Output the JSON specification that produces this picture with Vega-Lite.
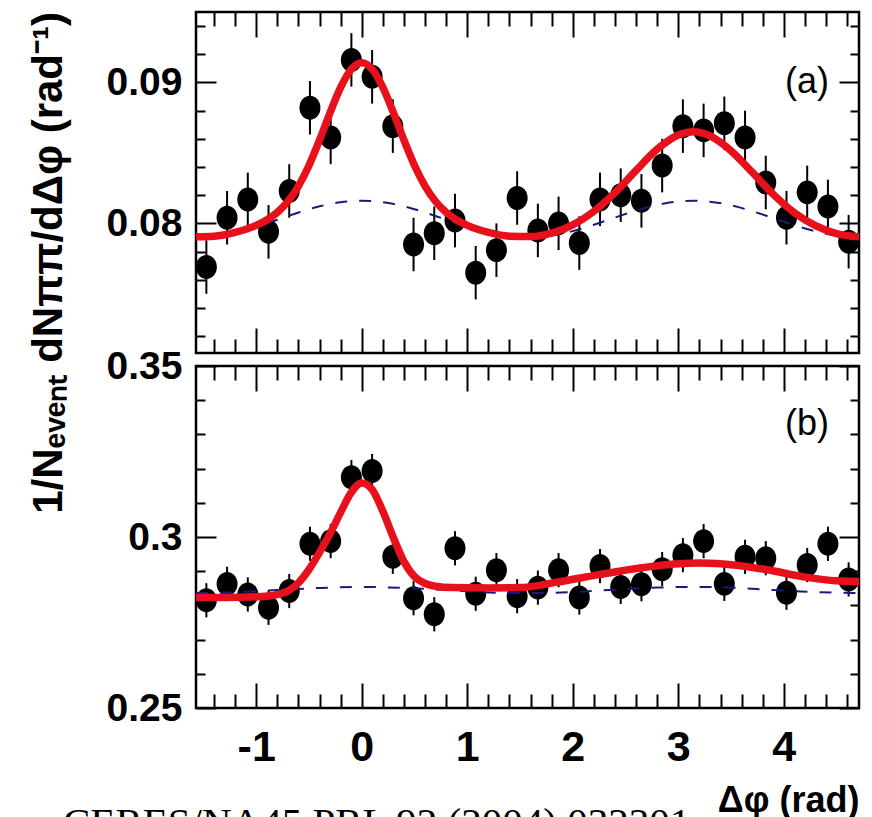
{
  "$schema": "https://vega.github.io/schema/vega-lite/v6.json",
  "background": "white",
  "padding": {"left": 27, "top": 9, "right": 10, "bottom": 5},
  "title": {"text": "1/Nₑᵥₑₙₜ dNππ/dΔφ (rad⁻¹)", "orient": "left", "anchor": "end", "frame": "group", "font": "Liberation Sans", "fontSize": 42, "fontWeight": "bold", "color": "black", "offset": -9},
  "spacing": -11,
  "datasets": {
    "ptsA": [
      {"x": -1.4726, "y": 0.0769, "lo": 0.0750, "hi": 0.0788},
      {"x": -1.2763, "y": 0.0804, "lo": 0.0785, "hi": 0.0823},
      {"x": -1.0799, "y": 0.0817, "lo": 0.0798, "hi": 0.0836},
      {"x": -0.8836, "y": 0.0794, "lo": 0.0775, "hi": 0.0813},
      {"x": -0.6872, "y": 0.0823, "lo": 0.0804, "hi": 0.0842},
      {"x": -0.4909, "y": 0.0882, "lo": 0.0863, "hi": 0.0901},
      {"x": -0.2945, "y": 0.0861, "lo": 0.0842, "hi": 0.0880},
      {"x": -0.0982, "y": 0.0916, "lo": 0.0897, "hi": 0.0935},
      {"x": 0.0982, "y": 0.0904, "lo": 0.0885, "hi": 0.0923},
      {"x": 0.2945, "y": 0.0869, "lo": 0.0850, "hi": 0.0888},
      {"x": 0.4909, "y": 0.0785, "lo": 0.0766, "hi": 0.0804},
      {"x": 0.6872, "y": 0.0793, "lo": 0.0774, "hi": 0.0812},
      {"x": 0.8836, "y": 0.0802, "lo": 0.0783, "hi": 0.0821},
      {"x": 1.0799, "y": 0.0765, "lo": 0.0746, "hi": 0.0784},
      {"x": 1.2763, "y": 0.0781, "lo": 0.0762, "hi": 0.0800},
      {"x": 1.4726, "y": 0.0818, "lo": 0.0799, "hi": 0.0837},
      {"x": 1.6690, "y": 0.0795, "lo": 0.0776, "hi": 0.0814},
      {"x": 1.8653, "y": 0.0800, "lo": 0.0781, "hi": 0.0819},
      {"x": 2.0617, "y": 0.0786, "lo": 0.0767, "hi": 0.0805},
      {"x": 2.2580, "y": 0.0817, "lo": 0.0798, "hi": 0.0836},
      {"x": 2.4544, "y": 0.0820, "lo": 0.0801, "hi": 0.0839},
      {"x": 2.6507, "y": 0.0816, "lo": 0.0797, "hi": 0.0835},
      {"x": 2.8471, "y": 0.0841, "lo": 0.0822, "hi": 0.0860},
      {"x": 3.0434, "y": 0.0869, "lo": 0.0850, "hi": 0.0888},
      {"x": 3.2398, "y": 0.0866, "lo": 0.0847, "hi": 0.0885},
      {"x": 3.4361, "y": 0.0871, "lo": 0.0852, "hi": 0.0890},
      {"x": 3.6325, "y": 0.0861, "lo": 0.0842, "hi": 0.0880},
      {"x": 3.8288, "y": 0.0829, "lo": 0.0810, "hi": 0.0848},
      {"x": 4.0252, "y": 0.0804, "lo": 0.0785, "hi": 0.0823},
      {"x": 4.2215, "y": 0.0822, "lo": 0.0803, "hi": 0.0841},
      {"x": 4.4179, "y": 0.0812, "lo": 0.0793, "hi": 0.0831},
      {"x": 4.6142, "y": 0.0787, "lo": 0.0768, "hi": 0.0806}
    ],
    "ptsB": [
      {"x": -1.4726, "y": 0.2815, "lo": 0.2765, "hi": 0.2865},
      {"x": -1.2763, "y": 0.2863, "lo": 0.2813, "hi": 0.2913},
      {"x": -1.0799, "y": 0.2832, "lo": 0.2782, "hi": 0.2882},
      {"x": -0.8836, "y": 0.2793, "lo": 0.2743, "hi": 0.2843},
      {"x": -0.6872, "y": 0.2842, "lo": 0.2792, "hi": 0.2892},
      {"x": -0.4909, "y": 0.2980, "lo": 0.2930, "hi": 0.3030},
      {"x": -0.2945, "y": 0.2988, "lo": 0.2938, "hi": 0.3038},
      {"x": -0.0982, "y": 0.3175, "lo": 0.3125, "hi": 0.3225},
      {"x": 0.0982, "y": 0.3193, "lo": 0.3143, "hi": 0.3243},
      {"x": 0.2945, "y": 0.2942, "lo": 0.2892, "hi": 0.2992},
      {"x": 0.4909, "y": 0.2821, "lo": 0.2771, "hi": 0.2871},
      {"x": 0.6872, "y": 0.2774, "lo": 0.2724, "hi": 0.2824},
      {"x": 0.8836, "y": 0.2967, "lo": 0.2917, "hi": 0.3017},
      {"x": 1.0799, "y": 0.2834, "lo": 0.2784, "hi": 0.2884},
      {"x": 1.2763, "y": 0.2903, "lo": 0.2853, "hi": 0.2953},
      {"x": 1.4726, "y": 0.2827, "lo": 0.2777, "hi": 0.2877},
      {"x": 1.6690, "y": 0.2852, "lo": 0.2802, "hi": 0.2902},
      {"x": 1.8653, "y": 0.2903, "lo": 0.2853, "hi": 0.2953},
      {"x": 2.0617, "y": 0.2823, "lo": 0.2773, "hi": 0.2873},
      {"x": 2.2580, "y": 0.2915, "lo": 0.2865, "hi": 0.2965},
      {"x": 2.4544, "y": 0.2854, "lo": 0.2804, "hi": 0.2904},
      {"x": 2.6507, "y": 0.2862, "lo": 0.2812, "hi": 0.2912},
      {"x": 2.8471, "y": 0.2906, "lo": 0.2856, "hi": 0.2956},
      {"x": 3.0434, "y": 0.2947, "lo": 0.2897, "hi": 0.2997},
      {"x": 3.2398, "y": 0.2988, "lo": 0.2938, "hi": 0.3038},
      {"x": 3.4361, "y": 0.2863, "lo": 0.2813, "hi": 0.2913},
      {"x": 3.6325, "y": 0.2942, "lo": 0.2892, "hi": 0.2992},
      {"x": 3.8288, "y": 0.2938, "lo": 0.2888, "hi": 0.2988},
      {"x": 4.0252, "y": 0.2837, "lo": 0.2787, "hi": 0.2887},
      {"x": 4.2215, "y": 0.2918, "lo": 0.2868, "hi": 0.2968},
      {"x": 4.4179, "y": 0.2980, "lo": 0.2930, "hi": 0.3030},
      {"x": 4.6142, "y": 0.2876, "lo": 0.2826, "hi": 0.2926}
    ],
    "fitA": [
      {"x": -1.5708, "y": 0.07905}, {"x": -1.4, "y": 0.07909}, {"x": -1.2, "y": 0.07936}, {"x": -1.0, "y": 0.07986},
      {"x": -0.9, "y": 0.08024}, {"x": -0.8, "y": 0.08078}, {"x": -0.7, "y": 0.08155}, {"x": -0.6, "y": 0.08265},
      {"x": -0.5, "y": 0.08411}, {"x": -0.4, "y": 0.08591}, {"x": -0.3, "y": 0.08786}, {"x": -0.2, "y": 0.08965},
      {"x": -0.1, "y": 0.09093}, {"x": 0.0, "y": 0.0914}, {"x": 0.1, "y": 0.09093}, {"x": 0.2, "y": 0.08965},
      {"x": 0.3, "y": 0.08786}, {"x": 0.4, "y": 0.08591}, {"x": 0.5, "y": 0.08411}, {"x": 0.6, "y": 0.08265},
      {"x": 0.7, "y": 0.08155}, {"x": 0.8, "y": 0.08078}, {"x": 0.9, "y": 0.08024}, {"x": 1.0, "y": 0.07986},
      {"x": 1.2, "y": 0.07936}, {"x": 1.4, "y": 0.07909}, {"x": 1.6, "y": 0.07906}, {"x": 1.8, "y": 0.07931},
      {"x": 2.0, "y": 0.07989}, {"x": 2.2, "y": 0.08085}, {"x": 2.4, "y": 0.08218}, {"x": 2.6, "y": 0.08376},
      {"x": 2.8, "y": 0.08526}, {"x": 3.0, "y": 0.08627}, {"x": 3.1416, "y": 0.0865}, {"x": 3.3, "y": 0.08621},
      {"x": 3.5, "y": 0.08515}, {"x": 3.7, "y": 0.08363}, {"x": 3.9, "y": 0.08206}, {"x": 4.1, "y": 0.08076},
      {"x": 4.3, "y": 0.07984}, {"x": 4.5, "y": 0.07928}, {"x": 4.7124, "y": 0.07905}
    ],
    "bgA": [
      {"x": -1.5708, "y": 0.0790}, {"x": -1.4, "y": 0.07908}, {"x": -1.2, "y": 0.07934}, {"x": -1.0, "y": 0.07976},
      {"x": -0.8, "y": 0.08026}, {"x": -0.6, "y": 0.08077}, {"x": -0.4, "y": 0.08121}, {"x": -0.2, "y": 0.0815},
      {"x": 0.0, "y": 0.0816}, {"x": 0.2, "y": 0.0815}, {"x": 0.4, "y": 0.08121}, {"x": 0.6, "y": 0.08077},
      {"x": 0.8, "y": 0.08026}, {"x": 1.0, "y": 0.07976}, {"x": 1.2, "y": 0.07934}, {"x": 1.4, "y": 0.07908},
      {"x": 1.6, "y": 0.0790}, {"x": 1.8, "y": 0.07913}, {"x": 2.0, "y": 0.07945}, {"x": 2.2, "y": 0.0799},
      {"x": 2.4, "y": 0.08041}, {"x": 2.6, "y": 0.08091}, {"x": 2.8, "y": 0.08131}, {"x": 3.0, "y": 0.08155},
      {"x": 3.1416, "y": 0.0816}, {"x": 3.3, "y": 0.08154}, {"x": 3.5, "y": 0.08128}, {"x": 3.7, "y": 0.08087},
      {"x": 3.9, "y": 0.08037}, {"x": 4.1, "y": 0.07987}, {"x": 4.3, "y": 0.07943}, {"x": 4.5, "y": 0.07912},
      {"x": 4.7124, "y": 0.0790}
    ],
    "fitB": [
      {"x": -1.5708, "y": 0.2823}, {"x": -1.3, "y": 0.2823}, {"x": -1.0, "y": 0.2825}, {"x": -0.85, "y": 0.2829},
      {"x": -0.7, "y": 0.2842}, {"x": -0.6, "y": 0.2866}, {"x": -0.5, "y": 0.2905}, {"x": -0.4, "y": 0.2955},
      {"x": -0.3, "y": 0.3010}, {"x": -0.2, "y": 0.3072}, {"x": -0.1, "y": 0.3130}, {"x": 0.0, "y": 0.3158},
      {"x": 0.1, "y": 0.3138}, {"x": 0.2, "y": 0.3075}, {"x": 0.3, "y": 0.2998}, {"x": 0.4, "y": 0.2928},
      {"x": 0.5, "y": 0.2884}, {"x": 0.6, "y": 0.2864}, {"x": 0.7, "y": 0.2856}, {"x": 0.85, "y": 0.2852},
      {"x": 1.2, "y": 0.2851}, {"x": 1.5, "y": 0.2852}, {"x": 1.85, "y": 0.2868}, {"x": 2.25, "y": 0.2890},
      {"x": 2.65, "y": 0.2910}, {"x": 3.0, "y": 0.2922}, {"x": 3.2, "y": 0.2924}, {"x": 3.4, "y": 0.2922},
      {"x": 3.83, "y": 0.2905}, {"x": 4.22, "y": 0.2882}, {"x": 4.5, "y": 0.2872}, {"x": 4.7124, "y": 0.2870}
    ],
    "bgB": [
      {"x": -1.5708, "y": 0.2836}, {"x": -1.2, "y": 0.2838}, {"x": -0.8, "y": 0.2845}, {"x": -0.4, "y": 0.2851},
      {"x": 0.0, "y": 0.2854}, {"x": 0.4, "y": 0.2851}, {"x": 0.8, "y": 0.2845}, {"x": 1.2, "y": 0.2838},
      {"x": 1.5708, "y": 0.2836}, {"x": 2.0, "y": 0.2839}, {"x": 2.4, "y": 0.2846}, {"x": 2.8, "y": 0.2852},
      {"x": 3.1416, "y": 0.2854}, {"x": 3.5, "y": 0.2852}, {"x": 3.9, "y": 0.2845}, {"x": 4.3, "y": 0.2839},
      {"x": 4.7124, "y": 0.2836}
    ]
  },
  "vconcat": [
    {
      "width": 663,
      "height": 341,
      "resolve": {"axis": {"x": "independent", "y": "independent"}},
      "layer": [
        {
          "data": {"name": "ptsA"},
          "mark": {"type": "rule", "color": "black", "strokeWidth": 2},
          "encoding": {
            "x": {"field": "x", "type": "quantitative", "scale": {"domain": [-1.5708, 4.7124], "nice": false, "zero": false},
                  "axis": {"orient": "bottom", "values": [-1, 0, 1, 2, 3, 4], "tickSize": -25, "labels": false, "title": null}},
            "y": {"field": "lo", "type": "quantitative", "scale": {"domain": [0.0708, 0.095], "nice": false, "zero": false},
                  "axis": {"orient": "left", "values": [0.08, 0.09], "tickSize": -20, "labels": false, "title": null}},
            "y2": {"field": "hi"}
          }
        },
        {
          "data": {"name": "ptsA"},
          "mark": {"type": "point", "shape": "M0,-1.14A1,1.14,0,1,1,0,1.14A1,1.14,0,1,1,0,-1.14Z", "filled": true, "color": "black", "opacity": 1, "size": 441},
          "encoding": {
            "x": {"field": "x", "type": "quantitative", "scale": {"domain": [-1.5708, 4.7124], "nice": false, "zero": false},
                  "axis": {"orient": "bottom", "values": [-1.4, -1.2, -0.8, -0.6, -0.4, -0.2, 0.2, 0.4, 0.6, 0.8, 1.2, 1.4, 1.6, 1.8, 2.2, 2.4, 2.6, 2.8, 3.2, 3.4, 3.6, 3.8, 4.2, 4.4, 4.6], "tickSize": -14, "labels": false, "title": null}},
            "y": {"field": "y", "type": "quantitative", "scale": {"domain": [0.0708, 0.095], "nice": false, "zero": false},
                  "axis": {"orient": "left", "values": [0.072, 0.074, 0.076, 0.078, 0.082, 0.084, 0.086, 0.088, 0.092, 0.094], "tickSize": -9, "labels": false, "title": null}}
          }
        },
        {
          "data": {"name": "bgA"},
          "mark": {"type": "line", "color": "#1a1a7a", "strokeWidth": 2, "strokeDash": [12, 12], "interpolate": "monotone"},
          "encoding": {
            "x": {"field": "x", "type": "quantitative", "scale": {"domain": [-1.5708, 4.7124], "nice": false, "zero": false},
                  "axis": {"orient": "top", "values": [-1, 0, 1, 2, 3, 4], "tickSize": -25, "labels": false, "title": null}},
            "y": {"field": "y", "type": "quantitative", "scale": {"domain": [0.0708, 0.095], "nice": false, "zero": false},
                  "axis": {"orient": "right", "values": [0.08, 0.09], "tickSize": -20, "labels": false, "title": null}}
          }
        },
        {
          "data": {"name": "fitA"},
          "mark": {"type": "line", "color": "#e8101a", "strokeWidth": 7.5, "interpolate": "monotone"},
          "encoding": {
            "x": {"field": "x", "type": "quantitative", "scale": {"domain": [-1.5708, 4.7124], "nice": false, "zero": false},
                  "axis": {"orient": "top", "values": [-1.4, -1.2, -0.8, -0.6, -0.4, -0.2, 0.2, 0.4, 0.6, 0.8, 1.2, 1.4, 1.6, 1.8, 2.2, 2.4, 2.6, 2.8, 3.2, 3.4, 3.6, 3.8, 4.2, 4.4, 4.6], "tickSize": -14, "labels": false, "title": null}},
            "y": {"field": "y", "type": "quantitative", "scale": {"domain": [0.0708, 0.095], "nice": false, "zero": false},
                  "axis": {"orient": "right", "values": [0.072, 0.074, 0.076, 0.078, 0.082, 0.084, 0.086, 0.088, 0.092, 0.094], "tickSize": -9, "labels": false, "title": null}}
          }
        },
        {
          "data": {"values": [{}]},
          "mark": {"type": "text", "text": "(a)", "font": "Liberation Sans", "fontSize": 36, "color": "black", "align": "center", "baseline": "middle"},
          "encoding": {
            "x": {"datum": 4.22, "type": "quantitative", "scale": {"domain": [-1.5708, 4.7124], "nice": false, "zero": false}, "axis": null},
            "y": {"datum": 0.09, "type": "quantitative", "scale": {"domain": [0.0708, 0.095], "nice": false, "zero": false},
                  "axis": {"orient": "left", "values": [0.08, 0.09], "ticks": false, "labels": true, "labelPadding": 14, "format": "~g", "title": null}}
          }
        }
      ]
    },
    {
      "width": 663,
      "height": 342,
      "title": {"text": "CERES/NA45 PRL 92 (2004) 032301", "orient": "bottom", "anchor": "start", "frame": "group", "font": "Liberation Serif", "fontSize": 41, "fontWeight": "normal", "color": "black", "offset": -14, "dx": -133},
      "resolve": {"axis": {"x": "independent", "y": "independent"}},
      "layer": [
        {
          "data": {"name": "ptsB"},
          "mark": {"type": "rule", "color": "black", "strokeWidth": 2},
          "encoding": {
            "x": {"field": "x", "type": "quantitative", "scale": {"domain": [-1.5708, 4.7124], "nice": false, "zero": false},
                  "axis": {"orient": "bottom", "values": [-1, 0, 1, 2, 3, 4], "tickSize": -25, "labels": false, "title": null}},
            "y": {"field": "lo", "type": "quantitative", "scale": {"domain": [0.25, 0.35], "nice": false, "zero": false},
                  "axis": {"orient": "left", "values": [0.25, 0.3, 0.35], "tickSize": -20, "labels": false, "title": null}},
            "y2": {"field": "hi"}
          }
        },
        {
          "data": {"name": "ptsB"},
          "mark": {"type": "point", "shape": "M0,-1.14A1,1.14,0,1,1,0,1.14A1,1.14,0,1,1,0,-1.14Z", "filled": true, "color": "black", "opacity": 1, "size": 441},
          "encoding": {
            "x": {"field": "x", "type": "quantitative", "scale": {"domain": [-1.5708, 4.7124], "nice": false, "zero": false},
                  "axis": {"orient": "bottom", "values": [-1.4, -1.2, -0.8, -0.6, -0.4, -0.2, 0.2, 0.4, 0.6, 0.8, 1.2, 1.4, 1.6, 1.8, 2.2, 2.4, 2.6, 2.8, 3.2, 3.4, 3.6, 3.8, 4.2, 4.4, 4.6], "tickSize": -14, "labels": false, "title": null}},
            "y": {"field": "y", "type": "quantitative", "scale": {"domain": [0.25, 0.35], "nice": false, "zero": false},
                  "axis": {"orient": "left", "values": [0.26, 0.27, 0.28, 0.29, 0.31, 0.32, 0.33, 0.34], "tickSize": -9, "labels": false, "title": null}}
          }
        },
        {
          "data": {"name": "bgB"},
          "mark": {"type": "line", "color": "#1a1a7a", "strokeWidth": 2, "strokeDash": [12, 12], "interpolate": "monotone"},
          "encoding": {
            "x": {"field": "x", "type": "quantitative", "scale": {"domain": [-1.5708, 4.7124], "nice": false, "zero": false},
                  "axis": {"orient": "top", "values": [-1, 0, 1, 2, 3, 4], "tickSize": -25, "labels": false, "title": null}},
            "y": {"field": "y", "type": "quantitative", "scale": {"domain": [0.25, 0.35], "nice": false, "zero": false},
                  "axis": {"orient": "right", "values": [0.25, 0.3, 0.35], "tickSize": -20, "labels": false, "title": null}}
          }
        },
        {
          "data": {"name": "fitB"},
          "mark": {"type": "line", "color": "#e8101a", "strokeWidth": 7.5, "interpolate": "monotone"},
          "encoding": {
            "x": {"field": "x", "type": "quantitative", "scale": {"domain": [-1.5708, 4.7124], "nice": false, "zero": false},
                  "axis": {"orient": "top", "values": [-1.4, -1.2, -0.8, -0.6, -0.4, -0.2, 0.2, 0.4, 0.6, 0.8, 1.2, 1.4, 1.6, 1.8, 2.2, 2.4, 2.6, 2.8, 3.2, 3.4, 3.6, 3.8, 4.2, 4.4, 4.6], "tickSize": -14, "labels": false, "title": null}},
            "y": {"field": "y", "type": "quantitative", "scale": {"domain": [0.25, 0.35], "nice": false, "zero": false},
                  "axis": {"orient": "right", "values": [0.26, 0.27, 0.28, 0.29, 0.31, 0.32, 0.33, 0.34], "tickSize": -9, "labels": false, "title": null}}
          }
        },
        {
          "data": {"values": [{}]},
          "mark": {"type": "text", "text": "(b)", "font": "Liberation Sans", "fontSize": 36, "color": "black", "align": "center", "baseline": "middle"},
          "encoding": {
            "x": {"datum": 4.22, "type": "quantitative", "scale": {"domain": [-1.5708, 4.7124], "nice": false, "zero": false},
                  "axis": {"orient": "bottom", "values": [-1, 0, 1, 2, 3, 4], "ticks": false, "labels": true, "labelPadding": 18, "labelFontSize": 43,
                           "labelExpr": "replace(datum.label, '−', '-')",
                           "title": "Δφ (rad)", "titleAnchor": "end", "titleAlign": "right", "titleFont": "Liberation Sans", "titleFontSize": 36, "titleFontWeight": "bold", "titleColor": "black", "titlePadding": 14}},
            "y": {"datum": 0.333, "type": "quantitative", "scale": {"domain": [0.25, 0.35], "nice": false, "zero": false},
                  "axis": {"orient": "left", "values": [0.25, 0.3, 0.35], "ticks": false, "labels": true, "labelPadding": 14, "format": "~g", "title": null}}
          }
        }
      ]
    }
  ],
  "config": {
    "view": {"stroke": "black", "strokeWidth": 2.5},
    "axis": {"domain": false, "grid": false, "minExtent": 0, "tickColor": "black", "tickWidth": 2, "labelColor": "black",
             "labelFont": "Liberation Sans", "labelFontSize": 39, "labelFontWeight": "bold"}
  }
}
